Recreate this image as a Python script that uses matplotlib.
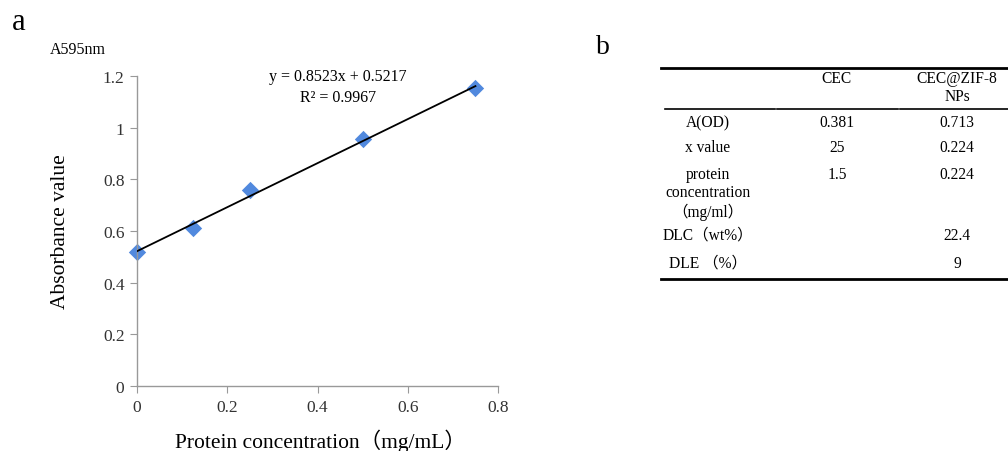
import matplotlib
matplotlib.use("Agg")
import matplotlib.pyplot as plt
from matplotlib.lines import Line2D
from matplotlib.ticker import FormatStrFormatter

plt.rcParams['font.family'] = ['Liberation Serif', 'Noto Sans CJK SC', 'DejaVu Sans']

# standard curve data (panel a)
conc = [0, 0.125, 0.25, 0.5, 0.75]
absorb = [0.52, 0.61, 0.76, 0.955, 1.155]
slope = 0.8523
intercept = 0.5217
r2 = 0.9967

# table data (panel b)
col_headers = ["CEC", "CEC@ZIF-8\nNPs"]
row_labels = ["A(OD)", "x value", "protein\nconcentration\n（mg/ml）", "DLC（wt%）", "DLE （%）"]
cec_vals = ["0.381", "25", "1.5", "", ""]
zif_vals = ["0.713", "0.224", "0.224", "22.4", "9"]

W, H = 1008, 452
fig = plt.figure(figsize=(W / 100, H / 100), dpi=100)


def px(x, y):
    return x / W, 1 - y / H


# ---- panel a ----
ax = fig.add_axes([137 / W, 1 - 387 / H, 361 / W, 310 / H])
ax.scatter(conc, absorb, marker='D', s=78, color='#5189de', zorder=2, linewidths=0, clip_on=False)
xs = [min(conc), max(conc)]
ax.plot(xs, [slope * x + intercept for x in xs], color='black', lw=1.3, zorder=3)
ax.set_xlim(0, 0.8)
ax.set_ylim(0, 1.2)
ax.set_xticks([0, 0.2, 0.4, 0.6, 0.8])
ax.set_yticks([0, 0.2, 0.4, 0.6, 0.8, 1.0, 1.2])
ax.xaxis.set_major_formatter(FormatStrFormatter('%g'))
ax.yaxis.set_major_formatter(FormatStrFormatter('%g'))
for s in ['top', 'right']:
    ax.spines[s].set_visible(False)
for s in ['left', 'bottom']:
    ax.spines[s].set_color('#999999')
    ax.spines[s].set_linewidth(1.0)
ax.tick_params(direction='out', length=5, color='#999999', labelsize=12.5,
               labelcolor='#333333', pad=4)
ax.set_ylabel("Absorbance value", fontsize=15.5)
ax.yaxis.set_label_coords(-0.186, 0.5)
ax.set_xlabel("Protein concentration（mg/mL）", fontsize=15.5)
ax.xaxis.set_label_coords(0.507, -0.138)

fig.text(*px(338, 77), "y = %.4fx + %.4f" % (slope, intercept), ha='center', va='center', fontsize=11.5)
fig.text(*px(338, 98), "R\u00b2 = %.4f" % r2, ha='center', va='center', fontsize=11.5)
fig.text(*px(50, 50), "A595nm", ha='left', va='center', fontsize=11.5)
fig.text(*px(12, 22), "a", ha='left', va='center', fontsize=22)
fig.text(*px(596, 47), "b", ha='left', va='center', fontsize=20)

# ---- panel b (table) ----
def hline(x0, x1, y, lw):
    fig.add_artist(Line2D([x0 / W, x1 / W], [1 - y / H, 1 - y / H], color='black', lw=lw))


hline(661, 1008, 69, 2.0)
hline(665, 775, 110, 1.2)
hline(777, 898, 110, 1.2)
hline(900, 1008, 110, 1.2)
hline(661, 1008, 280, 2.0)

col_x = [708, 837, 957]
fs = 11.2
fig.text(*px(col_x[1], 71), col_headers[0], ha='center', va='top', fontsize=fs)
fig.text(*px(col_x[2], 71), col_headers[1], ha='center', va='top', fontsize=fs, linespacing=1.15)

row_y = [115, 140, 167, 228, 256]
for lab, a, b, y in zip(row_labels, cec_vals, zif_vals, row_y):
    fig.text(*px(col_x[0], y), lab, ha='center', va='top', fontsize=fs, linespacing=1.2)
    fig.text(*px(col_x[1], y), a, ha='center', va='top', fontsize=fs)
    fig.text(*px(col_x[2], y), b, ha='center', va='top', fontsize=fs)

fig.savefig("out.png", dpi=100)
